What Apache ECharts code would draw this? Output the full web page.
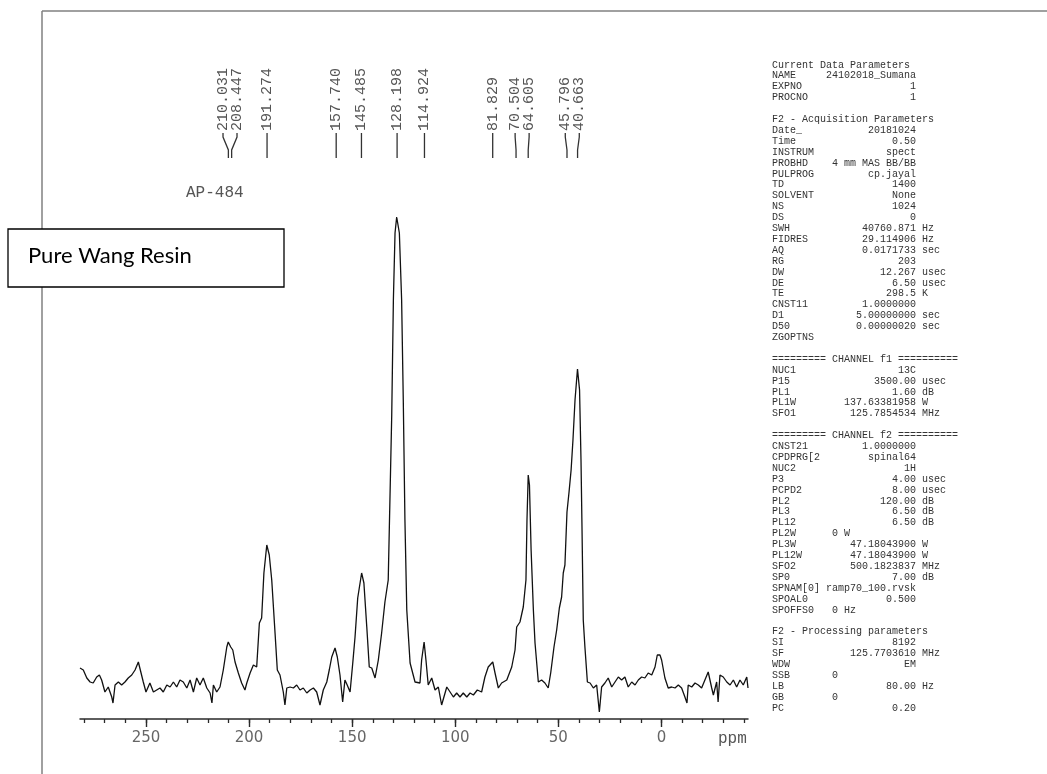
<!DOCTYPE html>
<html>
<head>
<meta charset="utf-8">
<script src="https://cdn.jsdelivr.net/npm/echarts@6/dist/echarts.min.js"></script>
<style>
html,body{margin:0;padding:0;background:#fff;}
#chart{width:1047px;height:774px;}
</style>
</head>
<body>
<div id="chart"></div>
<script>
// ---- data ----
var ppmValues = [282.0,280.4,278.7,277.1,275.6,273.9,272.6,271.5,269.9,268.3,266.6,266.0,265.0,263.4,261.8,260.2,258.6,256.9,255.3,253.7,252.9,251.3,250.0,248.1,246.4,244.8,243.2,241.6,239.9,238.3,236.7,235.1,233.5,231.9,230.2,228.6,227.0,225.4,223.8,222.2,220.5,218.9,218.0,217.3,215.7,214.1,212.5,210.8,210.1,208.9,207.9,206.8,205.2,203.6,202.0,201.1,199.5,197.9,196.3,195.0,193.9,192.8,191.4,190.2,189.0,187.4,186.3,185.0,183.4,182.6,181.7,180.1,178.5,176.9,175.3,173.7,172.0,170.4,168.8,167.2,165.6,164.0,162.3,161.1,159.9,158.3,157.2,155.9,154.6,153.5,152.4,151.0,149.7,148.6,147.3,145.4,144.3,142.9,141.7,140.5,138.9,137.3,135.7,134.1,132.5,130.8,130.0,129.2,128.4,128.0,127.1,126.0,125.2,124.4,123.5,121.9,119.5,117.1,116.3,115.1,114.2,113.1,111.4,109.8,108.2,106.6,104.1,102.5,100.9,99.3,97.7,96.1,94.4,92.8,91.2,89.3,87.2,85.6,84.0,81.8,80.7,79.1,77.5,75.0,72.6,71.0,70.2,68.6,67.0,65.7,65.2,64.6,64.0,63.2,62.1,61.3,59.7,58.1,56.5,54.9,53.7,52.1,50.8,49.5,48.4,47.6,46.8,45.8,44.8,43.8,42.9,41.9,40.7,39.7,39.0,38.5,37.9,37.1,35.9,34.6,33.0,31.4,30.1,29.0,27.4,25.8,24.1,22.5,20.9,19.3,17.7,16.1,14.4,12.8,11.2,9.6,8.0,6.4,4.7,3.1,2.0,0.7,-0.1,-1.7,-3.3,-5.0,-6.6,-8.2,-9.8,-11.4,-12.4,-13.0,-14.7,-16.3,-17.9,-19.5,-21.1,-22.7,-24.4,-25.2,-26.8,-27.5,-28.4,-30.0,-31.7,-33.3,-34.9,-36.5,-38.1,-39.7,-41.4,-42.0];
var intensities = [22,20,12,8,7,13,15,10,-2,3,-7,-13,5,8,5,8,12,15,20,28,27,8,-2,7,-2,0,2,-2,5,3,8,3,10,8,2,10,-2,12,5,12,2,-3,-13,5,-2,3,20,43,48,43,40,28,17,7,0,7,17,25,23,67,72,117,145,135,110,57,20,15,-2,-15,2,3,2,5,0,2,-3,0,2,-2,-15,0,8,20,33,42,33,15,-12,10,5,-2,27,53,92,117,107,63,23,22,12,30,57,88,110,275,390,457,473,472,457,390,290,170,80,27,8,7,30,48,30,5,12,0,3,-15,3,-2,-7,-3,-7,-3,-7,-3,-5,0,-2,13,23,28,17,2,7,10,23,40,63,68,83,110,170,215,205,140,80,47,8,10,7,2,17,43,60,82,93,117,125,178,198,220,250,290,321,300,230,160,70,43,8,7,2,5,-22,3,7,12,3,8,13,10,13,3,8,5,10,13,12,17,15,23,35,35,30,12,2,3,2,5,2,-7,-13,5,3,7,5,2,10,18,2,-5,8,-12,15,13,8,5,10,3,10,5,13,2];
var peakLabels = ['210.031','208.447','191.274','157.740','145.485','128.198','114.924','81.829','70.504','64.605','45.796','40.663'];
var majorTicks = [250,200,150,100,50,0];
var minorTicks = [280,270,260,250,240,230,220,210,200,190,180,170,160,150,140,130,120,110,100,90,80,70,60,50,40,30,20,10,0,-10,-20,-30,-40];
var sampleName = 'AP-484';
var boxTitle = 'Pure Wang Resin';
var axisUnit = 'ppm';
var paramRows = [
  'Current Data Parameters',
  ['NAME','24102018_Sumana'],
  ['EXPNO','1'],
  ['PROCNO','1'],
  '',
  'F2 - Acquisition Parameters',
  ['Date_','20181024'],
  ['Time','0.50'],
  ['INSTRUM','spect'],
  ['PROBHD','4 mm MAS BB/BB'],
  ['PULPROG','cp.jayal'],
  ['TD','1400'],
  ['SOLVENT','None'],
  ['NS','1024'],
  ['DS','0'],
  ['SWH','40760.871','Hz'],
  ['FIDRES','29.114906','Hz'],
  ['AQ','0.0171733','sec'],
  ['RG','203'],
  ['DW','12.267','usec'],
  ['DE','6.50','usec'],
  ['TE','298.5','K'],
  ['CNST11','1.0000000'],
  ['D1','5.00000000','sec'],
  ['D50','0.00000020','sec'],
  'ZGOPTNS',
  '',
  '========= CHANNEL f1 ==========',
  ['NUC1','13C'],
  ['P15','3500.00','usec'],
  ['PL1','1.60','dB'],
  ['PL1W','137.63381958','W'],
  ['SFO1','125.7854534','MHz'],
  '',
  '========= CHANNEL f2 ==========',
  ['CNST21','1.0000000'],
  ['CPDPRG[2','spinal64'],
  ['NUC2','1H'],
  ['P3','4.00','usec'],
  ['PCPD2','8.00','usec'],
  ['PL2','120.00','dB'],
  ['PL3','6.50','dB'],
  ['PL12','6.50','dB'],
  'PL2W      0 W',
  ['PL3W','47.18043900','W'],
  ['PL12W','47.18043900','W'],
  ['SFO2','500.1823837','MHz'],
  ['SP0','7.00','dB'],
  'SPNAM[0] ramp70_100.rvsk',
  ['SPOAL0','0.500'],
  'SPOFFS0   0 Hz',
  '',
  'F2 - Processing parameters',
  ['SI','8192'],
  ['SF','125.7703610','MHz'],
  ['WDW','EM'],
  'SSB       0',
  ['LB','80.00','Hz'],
  'GB        0',
  ['PC','0.20']
];

// ---- build ----
var VALUE_COL = 24;
var paramText = paramRows.map(function (r) {
  if (typeof r === 'string') return r;
  var pad = Math.max(1, VALUE_COL - r[0].length - r[1].length);
  return r[0] + new Array(pad + 1).join(' ') + r[1] + (r[2] ? ' ' + r[2] : '');
}).join('\n');

var peakShifts = peakLabels.map(function (s) { return parseFloat(s); });
var lineData = ppmValues.map(function (p, i) { return [p, intensities[i]]; });

function spread(xs, gap) {
  var clusters = xs.map(function (x, i) { return { idx: [i], xs: [x] }; });
  var changed = true;
  function pos(c) {
    var m = c.xs.reduce(function (a, b) { return a + b; }, 0) / c.xs.length;
    var start = m - (c.xs.length - 1) * gap / 2;
    return c.xs.map(function (_, k) { return start + k * gap; });
  }
  while (changed) {
    changed = false;
    for (var k = 0; k < clusters.length - 1; k++) {
      var a = pos(clusters[k]), b = pos(clusters[k + 1]);
      if (b[0] - a[a.length - 1] < gap) {
        clusters[k] = { idx: clusters[k].idx.concat(clusters[k + 1].idx), xs: clusters[k].xs.concat(clusters[k + 1].xs) };
        clusters.splice(k + 1, 1);
        changed = true;
        break;
      }
    }
  }
  var out = [];
  clusters.forEach(function (c) {
    var p = pos(c);
    c.idx.forEach(function (ii, k) { out[ii] = p[k]; });
  });
  return out;
}

var chart = echarts.init(document.getElementById('chart'), null, { renderer: 'canvas' });
var gridBox = { left: 80, right: 299, top: 200, bottom: 55 };
var X_MIN = -42, X_MAX = 282;

chart.setOption({
  backgroundColor: '#ffffff',
  animation: false,
  grid: [
    Object.assign({ containLabel: false }, gridBox),
    Object.assign({ containLabel: false }, gridBox)
  ],
  xAxis: [{
    type: 'value', gridIndex: 0, inverse: true, min: X_MIN, max: X_MAX, position: 'bottom',
    axisLine: { show: true, onZero: false, lineStyle: { color: '#2a2a2a', width: 1.5 } },
    axisTick: { show: true, length: 8, customValues: majorTicks, lineStyle: { color: '#2a2a2a', width: 1.4 } },
    axisLabel: { show: true, customValues: majorTicks, margin: 12, color: '#666', fontFamily: 'DejaVu Sans', fontSize: 15,
      formatter: function (v) { return String(v); } },
    splitLine: { show: false }
  }, {
    type: 'value', gridIndex: 1, inverse: true, min: X_MIN, max: X_MAX, position: 'bottom',
    axisLine: { show: false, onZero: false },
    axisTick: { show: true, length: 4, customValues: minorTicks, lineStyle: { color: '#2a2a2a', width: 1.3 } },
    axisLabel: { show: false },
    splitLine: { show: false }
  }],
  yAxis: [
    { type: 'value', gridIndex: 0, min: -29, max: 490, show: false },
    { type: 'value', gridIndex: 1, min: -29, max: 490, show: false }
  ],
  series: [{
    type: 'line', xAxisIndex: 0, yAxisIndex: 0, data: lineData, showSymbol: false, symbol: 'none',
    lineStyle: { color: '#111', width: 1.3 }, silent: true, clip: true
  }, {
    type: 'custom', xAxisIndex: 0, yAxisIndex: 0, silent: true, clip: false,
    data: peakShifts.map(function (p) { return [p, 0]; }),
    renderItem: function (params, api) {
      var i = params.dataIndex;
      var xs = peakShifts.map(function (p) { return api.coord([p, 0])[0]; });
      var lx = spread(xs, 14);
      var top = params.coordSys.y;
      var x0 = xs[i], l = lx[i];
      return {
        type: 'group',
        children: [{
          type: 'polyline',
          shape: { points: [[l, top - 67], [l, top - 63], [x0, top - 50], [x0, top - 42]] },
          style: { stroke: '#333', lineWidth: 1.3, fill: null }
        }, {
          type: 'text', x: l, y: top - 69, rotation: Math.PI / 2,
          style: { text: peakLabels[i], font: '15px "Liberation Mono"', fill: '#555', align: 'left', verticalAlign: 'middle' }
        }]
      };
    }
  }],
  graphic: [
    { type: 'line', shape: { x1: 42, y1: 11, x2: 42, y2: 774 }, style: { stroke: '#808080', lineWidth: 1.5 }, z: 1 },
    { type: 'line', shape: { x1: 42, y1: 11, x2: 1047, y2: 11 }, style: { stroke: '#808080', lineWidth: 1.5 }, z: 1 },
    { type: 'rect', shape: { x: 8, y: 229, width: 276, height: 58 }, style: { fill: '#fff', stroke: '#000', lineWidth: 1.3 }, z: 5 },
    { type: 'text', x: 28, y: 256, style: { text: boxTitle, font: '22px Lato', fill: '#000', verticalAlign: 'middle' }, z: 6 },
    { type: 'text', x: 186, y: 193, style: { text: sampleName, font: '16px "Liberation Mono"', fill: '#555', verticalAlign: 'middle' }, z: 6 },
    { type: 'text', x: 718, y: 739, style: { text: axisUnit, font: '16px "Liberation Mono"', fill: '#555', verticalAlign: 'middle' }, z: 6 },
    { type: 'text', x: 772, y: 59.5, style: { text: paramText, font: '10px "Liberation Mono"', lineHeight: 10.9, fill: '#333', verticalAlign: 'top' }, z: 6 }
  ]
});
</script>
</body>
</html>
